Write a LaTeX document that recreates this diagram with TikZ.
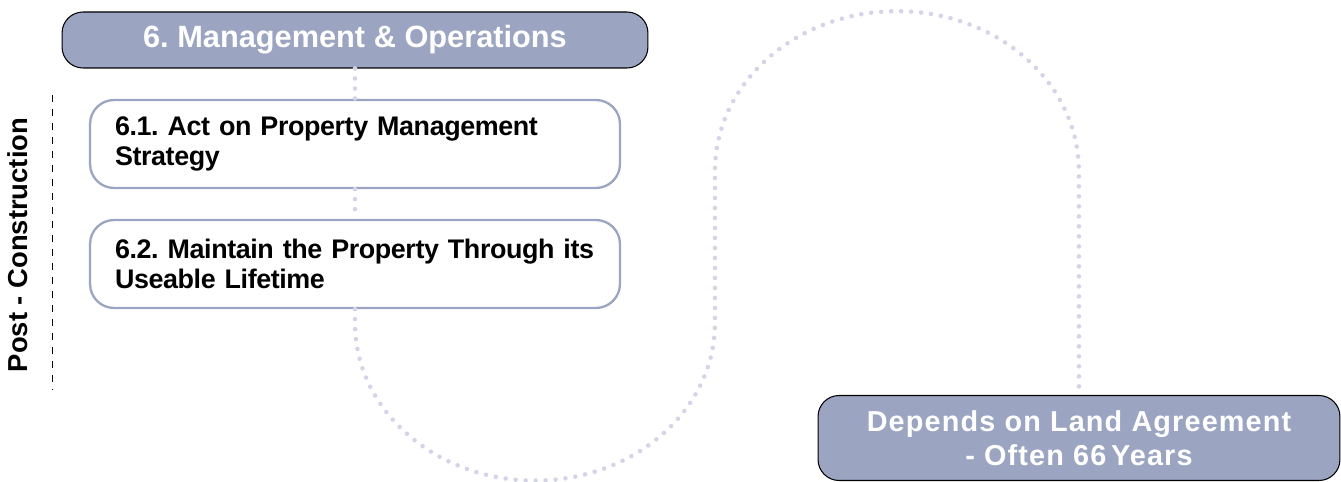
\documentclass[tikz,border=0pt]{standalone}
\usepackage{fontspec}
\setmainfont{Liberation Sans}
\newfontfamily\wideface[LetterSpace=4]{Liberation Sans}
\newfontfamily\tightface[LetterSpace=-1.5]{Liberation Sans}
\usetikzlibrary{positioning, calc}
\definecolor{slateblue}{RGB}{155,164,193}
\definecolor{dotlav}{RGB}{212,212,232}
\frenchspacing

\begin{document}
\begin{tikzpicture}[
        x=0.02cm, y=-0.02cm,
        phase/.style={rectangle, draw=black, line width=0.6pt, fill=slateblue, rounded corners=0.42cm,
                      align=center, text=white, font=\bfseries\fontsize{17.5}{20}\selectfont},
        task/.style={rectangle, draw=slateblue, line width=1.3pt, fill=white, rounded corners=0.48cm,
                     minimum width=10.6cm, minimum height=1.76cm, inner xsep=0.5cm,
                     text width=9.6cm, align=left, font=\tightface\bfseries\fontsize{15.3}{17}\selectfont},
        dotline/.style={draw=dotlav, line width=2.6pt, line cap=round, dash pattern=on 0pt off 0.2cm},
        side/.style={font=\bfseries\fontsize{15.6}{18}\selectfont, rotate=90},
    ]
    \useasboundingbox (0,0) rectangle (1341,482);

    % ===== Nodes =====
    \node[phase, minimum width=11.72cm, minimum height=1.12cm] (mo) at (355,40) {6. Management \& Operations};
    \node[task] (act)  at (355,144) {6.1. Act on Property Management\\Strategy};
    \node[task] (keep) at (355,264) {6.2. Maintain the Property Through its\\Useable Lifetime};
    \node[phase, minimum width=10.44cm, minimum height=1.7cm,
          font=\wideface\bfseries\fontsize{16.4}{19.5}\selectfont] (land) at (1079,438)
        {Depends on Land Agreement\\- Often 66\,Years};

    % ===== Dotted route =====
    \draw[dotline] (mo.south) -- (act.north);
    \draw[dotline] (act.south) -- (keep.north);
    \draw[dotline] (keep.south) -- ++(0,14) arc[start angle=180, end angle=360, x radius=3.6cm, y radius=3.15cm]
        -- ++(0,-152) arc[start angle=180, end angle=0, x radius=3.64cm, y radius=3.2cm] -- (land.north);

    % ===== Side label =====
    \node[side] (post) at (18,245) {Post - Construction};
    \draw[black, line width=0.5pt, dash pattern=on 0.14cm off 0.14cm] (52,95) -- (52,390);

    \end{tikzpicture}
\end{document}
